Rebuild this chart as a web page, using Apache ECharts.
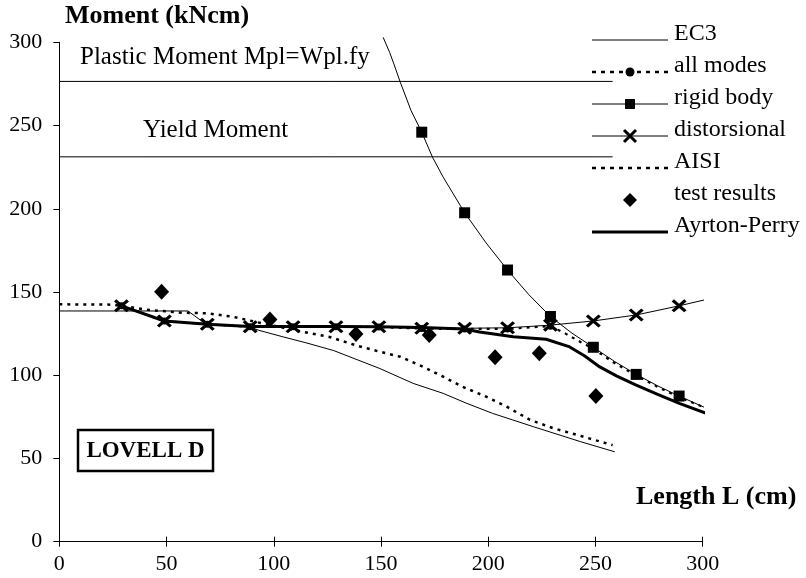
<!DOCTYPE html>
<html><head><meta charset="utf-8">
<script src="https://cdn.jsdelivr.net/npm/echarts@6/dist/echarts.min.js"></script>
<style>html,body{margin:0;padding:0;background:#fff}#chart{width:806px;height:578px}</style>
</head><body><div id="chart"></div>
<script>
// Lengths (cm) at which the model curves carry a marker
const markedLengths = [29, 49, 69, 89, 109, 129, 149, 169, 189, 209, 229, 249, 269, 289];

// EC3 design curve
const ec3Length = [0, 60, 67, 72, 89, 93, 104.5, 115, 128, 149.5, 165, 179, 190, 202, 221, 243, 259];
const ec3Moment = [138.6, 138.6, 132, 130.2, 129, 127, 123, 119.5, 114.8, 104, 95.1, 89.1, 83.1, 77.1, 69.1, 60.1, 54];

// all modes (interaction of all buckling modes)
const allModesLength = [29, 49, 69, 89, 109, 129, 149, 169, 189, 209, 229, 236, 243, 249, 258, 269, 279, 289, 302];
const allModesMoment = [141.7, 132.6, 130.6, 129.1, 129.1, 129.1, 129, 128, 127.8, 127.8, 129.5, 125, 120, 116, 108, 99.8, 93, 86.8, 80];

// rigid body (lateral-torsional) mode
const rigidLength = [151, 154, 156, 159, 164, 169, 174, 179, 189, 199, 209, 219, 229, 239, 249, 259, 269, 279, 289, 302];
const rigidMoment = [303, 294, 287, 276, 259, 246, 231, 219, 197.6, 179.5, 163.2, 148.3, 135.3, 125.3, 116.8, 108.2, 100.5, 93.6, 87.5, 80];

// distorsional mode
const distLength = [29, 49, 69, 89, 109, 129, 149, 169, 189, 209, 229, 249, 269, 289, 302];
const distMoment = [141.7, 132.6, 130.6, 129.1, 129.1, 129.1, 129.1, 128.2, 128.2, 128.5, 130.1, 132.6, 136.2, 141.7, 145.6];

// AISI design curve
const aisiLength = [0, 25, 42, 58, 69, 81, 97, 114, 126, 138.7, 149.5, 159, 169.6, 179, 188, 199, 208.6, 219.5, 230, 240, 258];
const aisiMoment = [142.6, 142.4, 139.2, 137.5, 137.2, 135.1, 130.5, 126, 123, 117.8, 114.1, 111.1, 105.1, 99.1, 93.1, 87.1, 81.1, 73.2, 68.3, 64.7, 58];

// Ayrton-Perry curve
const apLength = [29, 49, 69, 89, 109, 129, 149, 169, 189, 196, 211.7, 227, 238, 245, 252, 260, 269, 279, 289.4, 302.6];
const apMoment = [141.7, 132.6, 130.6, 129.3, 129.3, 129.3, 129.1, 128.6, 127.8, 126, 123.1, 121.6, 117, 111.5, 105, 99.5, 94, 88.5, 83, 76.7];

// test results
const testLength = [47.7, 98.2, 138.3, 172.5, 203.2, 223.8, 250.2];
const testMoment = [150.2, 133.5, 124.8, 124.1, 110.8, 113.2, 87.5];

// reference moments
const plasticMoment = 276.5;
const yieldMoment = 231.2;
const refLineLength = [0, 258];

const xTicks = [0, 50, 100, 150, 200, 250, 300];
const yTicks = [0, 50, 100, 150, 200, 250, 300];

const SERIF = '"Liberation Serif", "Times New Roman", serif';
const crossPath = 'path://M0,1.6L1.6,0L5,3.4L8.4,0L10,1.6L6.6,5L10,8.4L8.4,10L5,6.6L1.6,10L0,8.4L3.4,5Z';

function pairs(xs, ys, marked) {
  return xs.map((x, i) => {
    const item = { value: [x, ys[i]] };
    if (marked && markedLengths.indexOf(x) < 0) item.symbol = 'none';
    return item;
  });
}

const chart = echarts.init(document.getElementById('chart'), null, { renderer: 'canvas' });

const axisLabel = { color: '#000', fontFamily: SERIF, fontSize: 22 };

// legend drawn as graphics: sample from x=592 to x=668, text at 674
const legendRows = [
  { name: 'EC3', y: 40, kind: 'thin' },
  { name: 'all modes', y: 72, kind: 'dot', mark: 'circle' },
  { name: 'rigid body', y: 104, kind: 'thin', mark: 'square' },
  { name: 'distorsional', y: 136, kind: 'thin', mark: 'cross' },
  { name: 'AISI', y: 168, kind: 'dot' },
  { name: 'test results', y: 200, mark: 'diamond' },
  { name: 'Ayrton-Perry', y: 232, kind: 'thick' }
];
const graphics = [];
legendRows.forEach(r => {
  const cx = 630;
  if (r.kind) {
    const st = { stroke: '#000', lineWidth: r.kind === 'thick' ? 3 : (r.kind === 'dot' ? 2.5 : 1) };
    if (r.kind === 'dot') st.lineDash = [4, 5];
    graphics.push({ type: 'line', shape: { x1: 592, y1: r.y, x2: 668, y2: r.y }, style: st });
  }
  if (r.mark === 'circle') graphics.push({ type: 'circle', shape: { cx: cx, cy: r.y, r: 4.5 }, style: { fill: '#000' } });
  if (r.mark === 'square') graphics.push({ type: 'rect', shape: { x: cx - 5, y: r.y - 5, width: 10, height: 10 }, style: { fill: '#000' } });
  if (r.mark === 'cross') {
    graphics.push({ type: 'line', shape: { x1: cx - 6, y1: r.y - 6, x2: cx + 6, y2: r.y + 6 }, style: { stroke: '#000', lineWidth: 3 } });
    graphics.push({ type: 'line', shape: { x1: cx - 6, y1: r.y + 6, x2: cx + 6, y2: r.y - 6 }, style: { stroke: '#000', lineWidth: 3 } });
  }
  if (r.mark === 'diamond') graphics.push({ type: 'polygon', shape: { points: [[cx, r.y - 7], [cx + 7, r.y], [cx, r.y + 7], [cx - 7, r.y]] }, style: { fill: '#000' } });
  graphics.push({ type: 'text', x: 674, y: r.y - 6, style: { text: r.name, fontFamily: SERIF, fontSize: 24, fill: '#000', align: 'left', verticalAlign: 'middle' } });
});

graphics.push(
  { type: 'text', x: 65, y: 16, style: { text: 'Moment (kNcm)', fontFamily: SERIF, fontWeight: 'bold', fontSize: 26, fill: '#000', align: 'left', verticalAlign: 'middle' } },
  { type: 'text', x: 636, y: 497, style: { text: 'Length L (cm)', fontFamily: SERIF, fontWeight: 'bold', fontSize: 26, fill: '#000', align: 'left', verticalAlign: 'middle' } },
  { type: 'text', x: 80, y: 57, style: { text: 'Plastic Moment Mpl=Wpl.fy', fontFamily: SERIF, fontSize: 25, fill: '#000', align: 'left', verticalAlign: 'middle' } },
  { type: 'text', x: 143, y: 130, style: { text: 'Yield Moment', fontFamily: SERIF, fontSize: 25, fill: '#000', align: 'left', verticalAlign: 'middle' } },
  { type: 'rect', shape: { x: 78, y: 430, width: 135, height: 41 }, style: { fill: '#fff', stroke: '#000', lineWidth: 2.5 } },
  { type: 'text', x: 145.5, y: 451, style: { text: 'LOVELL D', fontFamily: SERIF, fontWeight: 'bold', fontSize: 23, fill: '#000', align: 'center', verticalAlign: 'middle' } }
);

const option = {
  backgroundColor: '#fff',
  animation: false,
  grid: { left: 59.3, right: 103.3, top: 42.3, bottom: 36.3 },
  xAxis: [
    {
      type: 'value', min: xTicks[0], max: xTicks[xTicks.length - 1], interval: 50,
      axisLine: { lineStyle: { color: '#000', width: 1 } },
      axisTick: { show: true, length: 5, lineStyle: { color: '#000' } },
      axisLabel: Object.assign({ margin: 12 }, axisLabel),
      splitLine: { show: false }
    },
    {
      type: 'value', min: xTicks[0], max: xTicks[xTicks.length - 1], interval: 50, position: 'bottom',
      axisLine: { show: false },
      axisTick: { show: true, inside: true, length: 5, lineStyle: { color: '#000' } },
      axisLabel: { show: false },
      splitLine: { show: false }
    }
  ],
  yAxis: {
    type: 'value', min: yTicks[0], max: yTicks[yTicks.length - 1], interval: 50,
    axisLine: { show: true, lineStyle: { color: '#000', width: 1 } },
    axisTick: { show: true, length: 6, lineStyle: { color: '#000' } },
    axisLabel: Object.assign({ margin: 17 }, axisLabel),
    splitLine: { show: false }
  },
  graphic: graphics,
  series: [
    {
      name: 'Plastic Moment', type: 'line', symbol: 'none', silent: true,
      data: refLineLength.map(x => [x, plasticMoment]),
      lineStyle: { color: '#000', width: 1 }
    },
    {
      name: 'Yield Moment', type: 'line', symbol: 'none', silent: true,
      data: refLineLength.map(x => [x, yieldMoment]),
      lineStyle: { color: '#000', width: 1 }
    },
    {
      name: 'EC3', type: 'line', symbol: 'none',
      data: pairs(ec3Length, ec3Moment, false),
      lineStyle: { color: '#000', width: 1 }
    },
    {
      name: 'AISI', type: 'line', symbol: 'none',
      data: pairs(aisiLength, aisiMoment, false),
      lineStyle: { color: '#000', width: 2.5, type: [3, 5] }
    },
    {
      name: 'all modes', type: 'line', symbol: 'circle', symbolSize: 7, clip: false,
      data: pairs(allModesLength, allModesMoment, true),
      itemStyle: { color: '#000' },
      lineStyle: { color: '#000', width: 2.2, type: [3, 5] }
    },
    {
      name: 'Ayrton-Perry', type: 'line', symbol: 'none', clip: false,
      data: pairs(apLength, apMoment, false),
      lineStyle: { color: '#000', width: 3, join: 'round' }
    },
    {
      name: 'rigid body', type: 'line', symbol: 'rect', symbolSize: 11, clip: false,
      data: pairs(rigidLength, rigidMoment, true),
      itemStyle: { color: '#000' },
      lineStyle: { color: '#000', width: 1 }
    },
    {
      name: 'distorsional', type: 'line', symbol: crossPath, symbolSize: [15, 13], clip: false,
      data: pairs(distLength, distMoment, true),
      itemStyle: { color: '#000' },
      lineStyle: { color: '#000', width: 1 }
    },
    {
      name: 'test results', type: 'scatter', symbol: 'diamond', symbolSize: [15, 16],
      data: pairs(testLength, testMoment, false),
      itemStyle: { color: '#000', opacity: 1 }
    }
  ]
};
chart.setOption(option);
</script>
</body></html>
